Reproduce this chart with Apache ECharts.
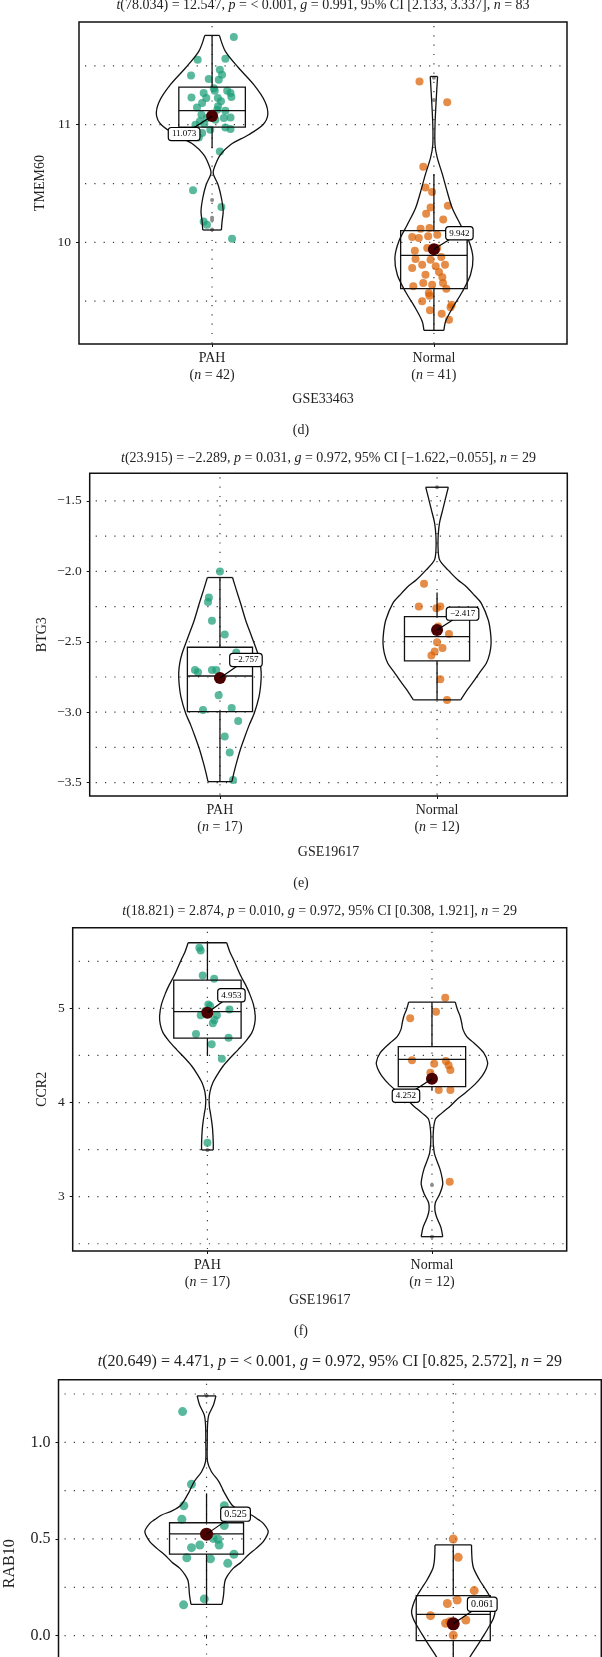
<!DOCTYPE html>
<html><head><meta charset="utf-8">
<script src="https://cdn.jsdelivr.net/npm/echarts@6/dist/echarts.min.js"></script>
<style>html,body{margin:0;padding:0;background:#fff;}#c{width:602px;height:1657px;}</style>
</head><body><div id="c"></div>
<script>
// ================= DATA =================
const groups = ['PAH', 'Normal'];

// ---- Panel (c): TMEM60, GSE33463 ----
const tmemTitle = '{i|t}(78.034) = 12.547, {i|p} = < 0.001, {i|g} = 0.991, 95% CI [2.133, 3.337], {i|n} = 83';
const tmemN = [42, 41];
const tmemMeans = [11.073, 9.942];
const tmemTicks = [10, 11];
const tmemTickLabels = ['10', '11'];
const tmemGridVals = [9.5, 10, 10.5, 11, 11.5];
const tmemPahPts = [[1.098,11.745],[0.935,11.552],[1.060,11.561],[1.035,11.467],[0.905,11.419],[1.045,11.425],[0.985,11.388],[1.030,11.382],[1.012,11.289],[0.962,11.269],[1.068,11.289],[1.083,11.269],[0.907,11.232],[0.974,11.227],[1.026,11.227],[1.087,11.235],[0.955,11.184],[0.932,11.147],[1.027,11.156],[1.060,11.119],[1.083,11.062],[0.952,11.085],[0.925,11.0],[0.965,11.006],[1.060,10.977],[1.083,10.963],[0.955,10.929],[0.940,10.892],[1.035,10.773],[0.914,10.442],[1.042,10.300],[0.962,10.178],[0.977,10.150],[1.090,10.031],[1.008,11.31],[0.977,11.057],[1.015,11.042],[1.053,11.057],[0.992,10.958],[1.040,11.20],[1.023,11.127],[0.945,11.03]];
const tmemNorPts = [[1.935,11.368],[2.060,11.190],[1.952,10.643],[1.962,10.467],[1.992,10.428],[2.063,10.312],[1.985,10.297],[1.965,10.244],[2.042,10.195],[1.940,10.116],[1.980,10.122],[1.902,10.045],[1.932,10.037],[1.974,10.051],[1.914,9.929],[2.033,9.875],[1.917,9.858],[1.985,9.853],[2.050,9.810],[1.902,9.782],[2.023,9.748],[2.038,9.703],[2.041,9.654],[2.056,9.606],[1.907,9.626],[1.952,9.654],[1.977,9.569],[1.980,9.547],[2.080,9.470],[2.075,9.448],[1.982,9.422],[2.035,9.394],[2.068,9.343],[1.970,9.952],[2.015,9.952],[1.947,9.810],[2.008,9.796],[1.962,9.725],[1.992,9.640],[2.015,10.065],[1.947,9.499]];
// box: [lower whisker, Q1, median, Q3, upper whisker]
const tmemPahBox = [10.80, 10.98, 11.119, 11.32, 11.759];
const tmemNorBox = [9.252, 9.606, 9.89, 10.099, 10.58];
const tmemPahOut = [10.36, 10.21, 10.19, 10.11];
const tmemNorOut = [11.21, 11.40];
// violin outline: [y, half width]
const tmemPahViolin = [[11.759,0.033],[11.623,0.060],[11.482,0.120],[11.340,0.188],[11.198,0.238],[11.085,0.251],[11.0,0.229],[10.915,0.165],[10.830,0.083],[10.745,0.038],[10.660,0.015],[10.589,0.005],[10.49,0.027],[10.377,0.042],[10.263,0.050],[10.178,0.045],[10.105,0.042]];
const tmemNorViolin = [[11.41,0.0165],[11.2,0.010],[11.0,0.005],[10.83,0.005],[10.72,0.015],[10.58,0.038],[10.43,0.060],[10.29,0.083],[10.15,0.120],[10.01,0.158],[9.867,0.176],[9.725,0.165],[9.58,0.128],[9.44,0.083],[9.33,0.053],[9.252,0.045]];

// ---- Panel (d): BTG3, GSE19617 ----
const btgTitle = '{i|t}(23.915) = −2.289, {i|p} = 0.031, {i|g} = 0.972, 95% CI [−1.622,−0.055], {i|n} = 29';
const btgN = [17, 12];
const btgMeans = [-2.757, -2.417];
const btgTicks = [-3.5, -3.0, -2.5, -2.0, -1.5];
const btgTickLabels = ['−3.5', '−3.0', '−2.5', '−2.0', '−1.5'];
const btgGridVals = [-3.5, -3.25, -3.0, -2.75, -2.5, -2.25, -2.0, -1.75, -1.5];
const btgPahPts = [[1.0,-2.002],[0.949,-2.186],[0.945,-2.217],[0.963,-2.350],[1.022,-2.449],[1.075,-2.577],[0.885,-2.700],[0.899,-2.717],[0.963,-2.700],[0.983,-2.700],[0.994,-2.880],[0.922,-2.984],[1.054,-2.970],[1.084,-3.062],[1.022,-3.173],[1.045,-3.287],[1.060,-3.481]];
const btgNorPts = [[1.940,-2.089],[1.916,-2.250],[1.997,-2.262],[2.015,-2.250],[2.055,-2.444],[2.0,-2.504],[2.025,-2.544],[1.989,-2.570],[1.974,-2.598],[2.015,-2.766],[2.046,-2.913],[2.005,-2.392]];
const btgPahBox = [-3.493, -2.996, -2.743, -2.539, -2.044];
const btgNorBox = [-2.913, -2.636, -2.463, -2.321, -2.151];
const btgPahOut = [];
const btgNorOut = [-1.403];
const btgPahViolin = [[-2.044,0.058],[-2.13,0.075],[-2.227,0.095],[-2.345,0.118],[-2.463,0.146],[-2.582,0.174],[-2.65,0.185],[-2.724,0.190],[-2.80,0.188],[-2.889,0.180],[-3.008,0.158],[-3.09,0.135],[-3.173,0.115],[-3.26,0.095],[-3.339,0.080],[-3.42,0.066],[-3.493,0.055]];
const btgNorViolin = [[-1.403,0.052],[-1.47,0.041],[-1.564,0.026],[-1.659,0.011],[-1.753,0.005],[-1.848,0.005],[-1.919,0.012],[-1.99,0.050],[-2.06,0.095],[-2.108,0.134],[-2.17,0.172],[-2.227,0.204],[-2.345,0.236],[-2.43,0.246],[-2.511,0.249],[-2.58,0.243],[-2.653,0.227],[-2.71,0.200],[-2.771,0.173],[-2.84,0.140],[-2.913,0.109]];

// ---- Panel (e): CCR2, GSE19617 ----
const ccrTitle = '{i|t}(18.821) = 2.874, {i|p} = 0.010, {i|g} = 0.972, 95% CI [0.308, 1.921], {i|n} = 29';
const ccrN = [17, 12];
const ccrMeans = [4.953, 4.252];
const ccrTicks = [3, 4, 5];
const ccrTickLabels = ['3', '4', '5'];
const ccrGridVals = [2.5, 3, 3.5, 4, 4.5, 5, 5.5];
const ccrPahPts = [[0.964,5.644],[0.970,5.616],[0.979,5.350],[1.030,5.315],[1.004,5.042],[1.098,4.989],[0.970,4.926],[1.042,4.926],[1.031,4.876],[1.024,4.841],[0.949,4.727],[1.094,4.688],[1.019,4.618],[1.064,4.465],[1.0,3.573],[0.990,4.972],[1.012,5.025]];
const ccrNorPts = [[2.059,5.113],[2.018,4.965],[1.903,4.894],[1.911,4.448],[2.010,4.412],[2.062,4.441],[2.074,4.395],[2.082,4.345],[2.030,4.133],[2.082,4.133],[2.079,3.159],[1.993,4.317]];
const ccrPahBox = [4.494, 4.685, 4.965, 5.30, 5.697];
const ccrNorBox = [4.133, 4.168, 4.458, 4.593, 5.067];
const ccrPahOut = [3.496];
const ccrNorOut = [3.124, 2.575];
const ccrPahViolin = [[5.697,0.086],[5.60,0.100],[5.52,0.116],[5.343,0.149],[5.25,0.170],[5.166,0.186],[5.04,0.205],[4.919,0.213],[4.83,0.210],[4.742,0.198],[4.65,0.170],[4.565,0.138],[4.47,0.100],[4.388,0.070],[4.30,0.045],[4.21,0.024],[4.12,0.012],[4.034,0.0075],[3.95,0.009],[3.892,0.013],[3.80,0.019],[3.715,0.023],[3.573,0.026],[3.496,0.026]];
const ccrNorViolin = [[5.067,0.104],[4.99,0.113],[4.919,0.125],[4.85,0.132],[4.777,0.138],[4.70,0.155],[4.635,0.186],[4.529,0.230],[4.423,0.248],[4.35,0.240],[4.281,0.223],[4.19,0.190],[4.104,0.149],[4.03,0.110],[3.963,0.082],[3.89,0.045],[3.821,0.015],[3.644,0.005],[3.467,0.010],[3.38,0.022],[3.29,0.036],[3.20,0.045],[3.131,0.048],[3.03,0.035],[2.936,0.015],[2.86,0.013],[2.795,0.019],[2.73,0.030],[2.671,0.040],[2.575,0.048]];

// ---- Panel (f): RAB10, GSE19617 ----
const rabTitle = '{i|t}(20.649) = 4.471, {i|p} = < 0.001, {i|g} = 0.972, 95% CI [0.825, 2.572], {i|n} = 29';
const rabN = [17, 12];
const rabMeans = [0.525, 0.061];
const rabTicks = [0.0, 0.5, 1.0];
const rabTickLabels = ['0.0', '0.5', '1.0'];
const rabGridVals = [-0.5, -0.25, 0, 0.25, 0.5, 0.75, 1.0, 1.25];
const rabPahPts = [[0.903,1.159],[0.939,0.783],[0.908,0.672],[1.072,0.672],[0.900,0.602],[1.072,0.569],[1.047,0.498],[1.051,0.469],[0.973,0.469],[0.939,0.455],[1.111,0.421],[0.920,0.403],[1.016,0.397],[1.086,0.374],[0.991,0.190],[0.907,0.159],[1.027,0.503]];
const rabNorPts = [[2.0,0.5],[2.020,0.405],[2.085,0.233],[2.016,0.184],[1.976,0.166],[1.908,0.103],[2.051,0.081],[1.969,0.064],[2.0,0.002],[1.986,0.072],[2.034,-0.152],[1.973,-0.203]];
const rabPahBox = [0.162, 0.422, 0.526, 0.584, 0.736];
const rabNorBox = [-0.20, -0.026, 0.110, 0.207, 0.469];
const rabPahOut = [1.241];
const rabNorOut = [];
const rabPahViolin = [[1.240,0.038],[1.193,0.028],[1.141,0.009],[1.09,0.004],[1.003,0.003],[0.9,0.004],[0.848,0.020],[0.797,0.050],[0.745,0.070],[0.676,0.103],[0.645,0.140],[0.624,0.182],[0.60,0.210],[0.581,0.230],[0.538,0.250],[0.486,0.230],[0.45,0.200],[0.417,0.169],[0.38,0.140],[0.348,0.108],[0.31,0.085],[0.279,0.074],[0.21,0.069],[0.162,0.063]];
const rabNorViolin = [[0.469,0.074],[0.42,0.075],[0.383,0.077],[0.35,0.082],[0.314,0.095],[0.28,0.110],[0.245,0.128],[0.21,0.145],[0.176,0.158],[0.124,0.169],[0.09,0.163],[0.055,0.149],[0.01,0.128],[-0.031,0.108],[-0.07,0.088],[-0.11,0.068],[-0.15,0.055],[-0.20,0.048]];

// ================= LAYOUT / STYLE =================
const F = '"Liberation Serif","Times New Roman",serif';
const INK = '#111';
const C_PAH = '#1b9e77';
const C_NOR = '#d95f02';
const C_MEAN = '#4a0000';

const panels = [
  { gene:'TMEM60', dataset:'GSE33463', title:tmemTitle, n:tmemN, means:tmemMeans, ticks:tmemTicks, tickLabels:tmemTickLabels, gridVals:tmemGridVals,
    pts:[tmemPahPts, tmemNorPts], box:[tmemPahBox, tmemNorBox], out:[tmemPahOut, tmemNorOut], vio:[tmemPahViolin, tmemNorViolin],
    L:{left:79, top:22, width:488, height:322, ymin:9.136, ymax:11.873, titleY:5, xNameY:399, yNameX:40.5, letter:'(d)', letterY:430.7, fs:14, tfs:13.5, lfs:9, ps:8, ms:12, off:[[-28,18],[25.5,-16]]} },
  { gene:'BTG3', dataset:'GSE19617', title:btgTitle, n:btgN, means:btgMeans, ticks:btgTicks, tickLabels:btgTickLabels, gridVals:btgGridVals,
    pts:[btgPahPts, btgNorPts], box:[btgPahBox, btgNorBox], out:[btgPahOut, btgNorOut], vio:[btgPahViolin, btgNorViolin],
    L:{left:89.7, top:473.3, width:477.6, height:322.7, ymin:-3.595, ymax:-1.304, titleY:458.3, xNameY:852.7, yNameX:42.5, letter:'(e)', letterY:883, fs:14, tfs:13.5, lfs:9, ps:8, ms:12, off:[[26,-18],[25.5,-16.4]]} },
  { gene:'CCR2', dataset:'GSE19617', title:ccrTitle, n:ccrN, means:ccrMeans, ticks:ccrTicks, tickLabels:ccrTickLabels, gridVals:ccrGridVals,
    pts:[ccrPahPts, ccrNorPts], box:[ccrPahBox, ccrNorBox], out:[ccrPahOut, ccrNorOut], vio:[ccrPahViolin, ccrNorViolin],
    L:{left:72.7, top:927.7, width:494, height:323.3, ymin:2.423, ymax:5.857, titleY:911.7, xNameY:1300.3, yNameX:42.5, letter:'(f)', letterY:1331, fs:14, tfs:13.5, lfs:9, ps:8, ms:12, off:[[24,-17.5],[-26,17]]} },
  { gene:'RAB10', dataset:'GSE19617', title:rabTitle, n:rabN, means:rabMeans, ticks:rabTicks, tickLabels:rabTickLabels, gridVals:rabGridVals,
    pts:[rabPahPts, rabNorPts], box:[rabPahBox, rabNorBox], out:[rabPahOut, rabNorOut], vio:[rabPahViolin, rabNorViolin],
    L:{left:58.5, top:1379.7, width:542.8, height:368, ymin:-0.58, ymax:1.324, titleY:1362, xNameY:1790, yNameX:9.5, yNameY:1563.7, letter:null, fs:16, tfs:16, lfs:10, ps:9, ms:13, off:[[29,-20],[29,-19.6]]} }
];

const XMIN = 0.4, XMAX = 2.6, BOXHW = 0.15;

function fmtMean(v){ return (v < 0 ? '−' : '') + Math.abs(v).toFixed(3); }

const option = { animation:false, grid:[], xAxis:[], yAxis:[], series:[], graphic:[] };

panels.forEach((p, k) => {
  const L = p.L;
  const dot = { stroke:'#3a3a3a', lineWidth:1.2, lineDash:[1.2, 8.1] };
  const st = { stroke:INK, lineWidth:1.3, fill:null };
  option.grid.push({ left:L.left, top:L.top, width:L.width, height:L.height, show:true, borderColor:INK, borderWidth:1.5,
    backgroundColor:'transparent', containLabel:false, outerBoundsMode:'none' });
  option.xAxis.push({
    type:'value', gridIndex:k, min:XMIN, max:XMAX,
    axisLine:{show:false}, splitLine:{show:false},
    axisTick:{show:true, customValues:[1,2], length:3, lineStyle:{color:INK, width:1}},
    axisLabel:{ customValues:[1,2], margin:6, color:'#222', fontFamily:F, fontSize:L.fs, lineHeight:17,
      formatter: v => { const i = Math.round(v) - 1; return groups[i] + '\n({i|n} = ' + p.n[i] + ')'; },
      rich:{ i:{fontStyle:'italic', fontFamily:F, fontSize:L.fs, color:'#222', lineHeight:17} } }
  });
  option.yAxis.push({
    type:'value', gridIndex:k, min:L.ymin, max:L.ymax,
    axisLine:{show:false}, splitLine:{show:false},
    axisTick:{show:true, customValues:p.ticks, length:3, lineStyle:{color:INK, width:1}},
    axisLabel:{ customValues:p.ticks, margin:8, color:'#222', fontFamily:F, fontSize:L.tfs,
      formatter: v => { const i = p.ticks.findIndex(t => Math.abs(t - v) < 1e-9); return i >= 0 ? p.tickLabels[i] : ''; } }
  });
  const ax = { xAxisIndex:k, yAxisIndex:k };
  // horizontal dotted grid
  option.series.push(Object.assign({ type:'custom', z:1, silent:true, data:p.gridVals.map(v => [v]),
    renderItem:(params, api) => { const v = api.value(0); const a = api.coord([XMIN, v]), b = api.coord([XMAX, v]);
      return { type:'line', shape:{x1:a[0]+6, y1:a[1], x2:b[0], y2:b[1]}, style:dot }; } }, ax));
  // vertical dotted grid at groups
  option.series.push(Object.assign({ type:'custom', z:1, silent:true, data:[[1],[2]],
    renderItem:(params, api) => { const x = api.value(0); const a = api.coord([x, L.ymax]), b = api.coord([x, L.ymin]);
      return { type:'line', shape:{x1:a[0], y1:a[1]+4, x2:b[0], y2:b[1]}, style:dot }; } }, ax));
  // jittered points
  [0,1].forEach(g => {
    option.series.push(Object.assign({ type:'scatter', z:2, silent:true, symbol:'circle', symbolSize:L.ps,
      itemStyle:{ color: g === 0 ? C_PAH : C_NOR, opacity:0.72 }, data:p.pts[g] }, ax));
  });
  // boxplots
  option.series.push(Object.assign({ type:'custom', z:3, silent:true, data:[[1],[2]],
    renderItem:(params, api) => {
      const gx = api.value(0); const b = p.box[params.dataIndex];
      const tl = api.coord([gx - BOXHW, b[3]]), br = api.coord([gx + BOXHW, b[1]]);
      const ml = api.coord([gx - BOXHW, b[2]]), mr = api.coord([gx + BOXHW, b[2]]);
      const wt = api.coord([gx, b[4]]), wb = api.coord([gx, b[0]]);
      const q3c = api.coord([gx, b[3]]), q1c = api.coord([gx, b[1]]);
      return { type:'group', children:[
        { type:'rect', shape:{x:tl[0], y:tl[1], width:br[0]-tl[0], height:br[1]-tl[1]}, style:st },
        { type:'line', shape:{x1:ml[0], y1:ml[1], x2:mr[0], y2:mr[1]}, style:st },
        { type:'line', shape:{x1:wt[0], y1:wt[1], x2:q3c[0], y2:q3c[1]}, style:st },
        { type:'line', shape:{x1:q1c[0], y1:q1c[1], x2:wb[0], y2:wb[1]}, style:st }
      ]};
    } }, ax));
  // outliers
  const outData = [];
  p.out.forEach((arr, g) => arr.forEach(v => outData.push([g + 1, v])));
  option.series.push(Object.assign({ type:'scatter', z:3, silent:true, symbolSize:4, itemStyle:{color:'#8c8c8c', opacity:1}, data:outData }, ax));
  // violins
  option.series.push(Object.assign({ type:'custom', z:4, silent:true, data:[[1],[2]],
    renderItem:(params, api) => {
      const gx = api.value(0); const vio = p.vio[params.dataIndex];
      const left = vio.map(r => api.coord([gx - r[1], r[0]]));
      const right = vio.map(r => api.coord([gx + r[1], r[0]]));
      const n = vio.length - 1;
      return { type:'group', children:[
        { type:'polyline', shape:{points:left, smooth:0.3}, style:st },
        { type:'polyline', shape:{points:right, smooth:0.3}, style:st },
        { type:'line', shape:{x1:left[0][0], y1:left[0][1], x2:right[0][0], y2:right[0][1]}, style:st },
        { type:'line', shape:{x1:left[n][0], y1:left[n][1], x2:right[n][0], y2:right[n][1]}, style:st }
      ]};
    } }, ax));
  // means
  const meanData = p.means.map((m, g) => [g + 1, m]);
  option.series.push(Object.assign({ type:'scatter', z:5, silent:true, symbolSize:L.ms, itemStyle:{color:C_MEAN, opacity:1}, data:meanData }, ax));
  // mean labels
  option.series.push(Object.assign({ type:'custom', z:6, silent:true, data:meanData,
    renderItem:(params, api) => {
      const c = api.coord([api.value(0), api.value(1)]); const o = L.off[params.dataIndex];
      return { type:'group', children:[
        { type:'line', shape:{x1:c[0], y1:c[1], x2:c[0]+o[0], y2:c[1]+o[1]}, style:{stroke:'#000', lineWidth:1.2} },
        { type:'text', x:c[0]+o[0], y:c[1]+o[1], style:{ text:fmtMean(p.means[params.dataIndex]), align:'center', verticalAlign:'middle',
            fontFamily:F, fontSize:L.lfs, fill:'#000', backgroundColor:'#fff', borderColor:'#000', borderWidth:1.2, borderRadius:2.5, padding:[2,3,1,3] } }
      ]};
    } }, ax));

  // texts
  const cx = L.left + L.width / 2;
  option.graphic.push({ type:'text', x:cx, y:L.titleY, z:10, silent:true,
    style:{ text:p.title, align:'center', verticalAlign:'middle', fontFamily:F, fontSize:L.fs, fill:'#222',
      rich:{ i:{fontStyle:'italic', fontFamily:F, fontSize:L.fs, fill:'#222'} } } });
  option.graphic.push({ type:'text', x:cx, y:L.xNameY, z:10, silent:true,
    style:{ text:p.dataset, align:'center', verticalAlign:'middle', fontFamily:F, fontSize:L.fs, fill:'#222' } });
  option.graphic.push({ type:'text', x:L.yNameX, y:(L.yNameY || (L.top + L.height / 2)), rotation:Math.PI/2, z:10, silent:true,
    style:{ text:p.gene, align:'center', verticalAlign:'middle', fontFamily:F, fontSize:L.fs, fill:'#222' } });
  if (L.letter) option.graphic.push({ type:'text', x:301, y:L.letterY, z:10, silent:true,
    style:{ text:L.letter, align:'center', verticalAlign:'middle', fontFamily:F, fontSize:14, fill:'#222' } });
});

const chart = echarts.init(document.getElementById('c'), null, { renderer:'canvas', width:602, height:1657 });
chart.setOption(option);
</script></body></html>
